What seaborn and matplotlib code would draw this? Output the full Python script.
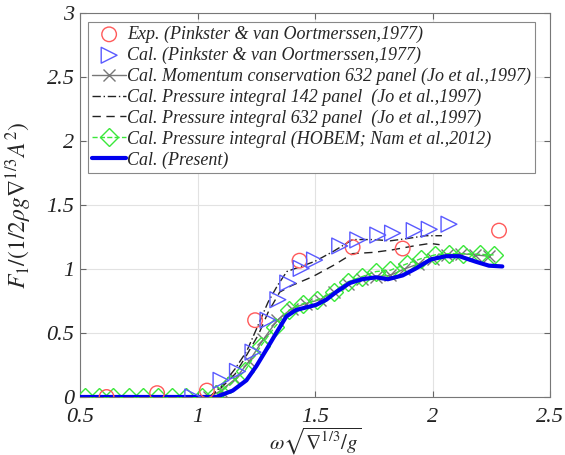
import matplotlib
matplotlib.use("Agg")
import matplotlib.pyplot as plt
import seaborn as sns
import pandas as pd

# ---- data ----
exp_x = [0.613, 0.828, 1.04, 1.245, 1.434, 1.66, 1.873, 2.283]
exp_y = [0.0, 0.03, 0.05, 0.60, 1.065, 1.17, 1.16, 1.30]

pink_x = [0.98, 1.10, 1.17, 1.236, 1.30, 1.342, 1.384, 1.441, 1.498, 1.605, 1.682, 1.767, 1.83, 1.922, 1.986, 2.07]
pink_y = [0.0, 0.13, 0.20, 0.35, 0.60, 0.76, 0.89, 1.005, 1.07, 1.18, 1.227, 1.265, 1.28, 1.30, 1.31, 1.35]

mom_x = [1.05, 1.10, 1.16, 1.22, 1.28, 1.34, 1.40, 1.46, 1.52, 1.58, 1.64, 1.70, 1.76, 1.82, 1.88, 1.94, 2.00, 2.06, 2.12, 2.18, 2.24]
mom_y = [0.0, 0.05, 0.14, 0.28, 0.45, 0.60, 0.69, 0.73, 0.76, 0.82, 0.88, 0.92, 0.94, 0.95, 1.00, 1.04, 1.08, 1.11, 1.12, 1.11, 1.10]

p142_x = [1.05, 1.10, 1.16, 1.21, 1.26, 1.30, 1.34, 1.38, 1.44, 1.50, 1.58, 1.66, 1.75, 1.82, 1.90, 1.97, 2.04]
p142_y = [0.0, 0.08, 0.22, 0.36, 0.57, 0.74, 0.87, 0.98, 1.02, 1.06, 1.14, 1.23, 1.23, 1.22, 1.24, 1.26, 1.26]

p632_x = [1.05, 1.10, 1.16, 1.21, 1.26, 1.30, 1.35, 1.40, 1.49, 1.58, 1.66, 1.75, 1.83, 1.92, 1.99, 2.03]
p632_y = [0.0, 0.07, 0.18, 0.33, 0.49, 0.66, 0.82, 0.87, 0.94, 1.03, 1.12, 1.13, 1.15, 1.18, 1.20, 1.19]

hob_x = [0.52, 0.58, 0.64, 0.71, 0.77, 0.83, 0.89, 0.95, 1.02, 1.08, 1.14, 1.20, 1.27, 1.33, 1.39,
         1.45, 1.51, 1.58, 1.64, 1.70, 1.76, 1.82, 1.89, 1.95, 2.01, 2.07, 2.13, 2.20, 2.26]
hob_y = [0, 0, 0, 0, 0, 0, 0, 0, 0.0, 0.02, 0.10, 0.20, 0.40, 0.55, 0.68,
         0.73, 0.76, 0.82, 0.90, 0.94, 0.98, 0.99, 1.04, 1.08, 1.11, 1.12, 1.12, 1.115, 1.11]

pres_x = [0.5, 1.0, 1.08, 1.15, 1.208, 1.25, 1.293, 1.335, 1.378, 1.42, 1.463, 1.505, 1.548, 1.59,
          1.647, 1.70, 1.76, 1.81, 1.873, 1.93, 1.993, 2.057, 2.114, 2.184, 2.24, 2.297]
pres_y = [0.0, 0.0, 0.0, 0.05, 0.13, 0.24, 0.37, 0.50, 0.63, 0.68, 0.70, 0.72, 0.76, 0.82,
          0.89, 0.92, 0.935, 0.92, 0.95, 1.005, 1.075, 1.10, 1.10, 1.057, 1.026, 1.02]

labels = [
    "Exp. (Pinkster & van Oortmerssen,1977)",
    "Cal. (Pinkster & van Oortmerssen,1977)",
    "Cal. Momentum conservation 632 panel (Jo et al.,1997)",
    "Cal. Pressure integral 142 panel  (Jo et al.,1997)",
    "Cal. Pressure integral 632 panel  (Jo et al.,1997)",
    "Cal. Pressure integral (HOBEM; Nam et al.,2012)",
    "Cal. (Present)",
]
xticks = [0.5, 1, 1.5, 2, 2.5]
yticks = [0, 0.5, 1, 1.5, 2, 2.5, 3]
xtick_labels = ["0.5", "1", "1.5", "2", "2.5"]
ytick_labels = ["0", "0.5", "1", "1.5", "2", "2.5", "3"]

sns.set_style("whitegrid")
plt.rcParams["font.family"] = ["Liberation Serif", "DejaVu Serif"]
plt.rcParams["mathtext.fontset"] = "stix"

fig = plt.figure(figsize=(5.65, 4.55), dpi=100)
ax = fig.add_axes([0.1416, 0.1275, 0.8319, 0.8439])

red = "#ff5a5a"
blue_t = "#5a5aff"
green = "#3ae83a"

sns.lineplot(x=hob_x, y=hob_y, ax=ax, color=green, lw=1.0, linestyle="--",
             marker="D", markersize=9.5, markerfacecolor="none", markeredgecolor=green,
             markeredgewidth=1.0, sort=False, estimator=None, label=labels[5], zorder=3)
sns.lineplot(x=mom_x, y=mom_y, ax=ax, color="#777777", lw=1.0, marker="x", markersize=8,
             markeredgecolor="#777777", markeredgewidth=1.0,
             sort=False, estimator=None, label=labels[2], zorder=2)
sns.lineplot(x=p142_x, y=p142_y, ax=ax, color="#222222", lw=1.0, linestyle=(0, (6, 2, 1, 2)),
             sort=False, estimator=None, label=labels[3], zorder=2)
sns.lineplot(x=p632_x, y=p632_y, ax=ax, color="#222222", lw=1.0, linestyle=(0, (6, 4)),
             sort=False, estimator=None, label=labels[4], zorder=2)
sns.lineplot(x=pres_x, y=pres_y, ax=ax, color="#0000ee", lw=3.0,
             sort=False, estimator=None, label=labels[6], zorder=4)
sns.scatterplot(x=exp_x, y=exp_y, ax=ax, marker="o", s=110, facecolor="none",
                edgecolor=red, linewidth=1.0, label=labels[0], zorder=5)
sns.scatterplot(x=pink_x, y=pink_y, ax=ax, marker=">", s=130, facecolor="none",
                edgecolor=blue_t, linewidth=1.0, label=labels[1], zorder=5)

ax.set_xlim(0.5, 2.5)
ax.set_ylim(0, 3)
ax.set_xticks(xticks)
ax.set_xticklabels(xtick_labels)
ax.set_yticks(yticks)
ax.set_yticklabels(ytick_labels)
for t in ax.get_xticklabels() + ax.get_yticklabels():
    t.set_fontstyle("italic")
    t.set_fontsize(16)
    t.set_color("#222222")
ax.tick_params(direction="in", length=4, color="#666666", top=True, right=True,
               bottom=True, left=True)
ax.tick_params(axis="x", pad=8)
ax.tick_params(axis="y", pad=4)
ax.grid(True, color="#e2e2e2", lw=0.8)
for s in ax.spines.values():
    s.set_color("#777777")
    s.set_linewidth(0.8)

ax.set_xlabel(r"$\omega\sqrt{\nabla^{1/3}/g}$", fontsize=15)
ax.xaxis.set_label_coords(0.5, -0.074)
ax.set_ylabel(r"$F_{1}/(1/2\rho g\nabla^{1/3}A^{2})$", fontsize=17)
ax.yaxis.set_label_coords(-0.097, 0.5)

handles, labs = ax.get_legend_handles_labels()
order = [labs.index(l) for l in labels]
leg = ax.legend([handles[i] for i in order], [labs[i] for i in order],
                loc="upper left", bbox_to_anchor=(0.017, 0.977), frameon=True,
                fancybox=False, edgecolor="#888888", framealpha=1.0,
                prop={"family": "Liberation Serif", "style": "italic", "size": 13},
                handlelength=1.9, handletextpad=0.05, labelspacing=0.2,
                borderpad=0.22, borderaxespad=0)
leg.get_frame().set_linewidth(0.8)

fig.savefig("out.png", dpi=100)
